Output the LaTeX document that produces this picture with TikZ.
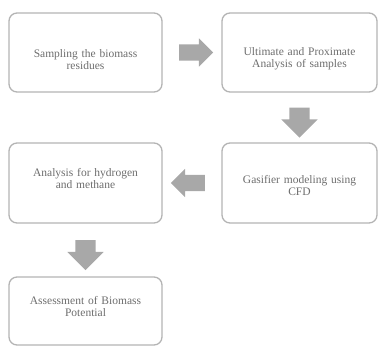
\documentclass[tikz,border=0pt]{standalone}
\usepackage{fontspec}
\setmainfont{Liberation Serif}
\usetikzlibrary{shapes.arrows,calc}
\definecolor{boxline}{HTML}{B4B4B4}
\definecolor{txtgray}{HTML}{6E6E6E}
\definecolor{arrowgray}{HTML}{A8A8A8}
\tikzset{
  stagebox/.style={draw=boxline, line width=1.3pt, rounded corners=8pt, fill=white, inner sep=0pt},
  stagetext/.style={text=txtgray, font=\fontsize{11.5}{12}\selectfont, align=center, text width=145pt, inner sep=0pt},
  blockarrow/.style={single arrow, fill=arrowgray, draw=none, inner sep=0pt, single arrow head indent=0pt},
  harrow/.style={blockarrow, inner ysep=8pt, single arrow head extend=6pt, minimum height=34pt},
  varrow/.style={blockarrow, inner ysep=10pt, single arrow head extend=8pt, minimum height=30pt}
}
\begin{document}
\begin{tikzpicture}[x=1pt,y=-1pt]
\useasboundingbox (0,0) rectangle (380,349);
\node[stagebox, minimum width=153pt, minimum height=79pt] (b1) at (85.5,52.5) {};
\node[stagebox, minimum width=155pt, minimum height=79pt] (b2) at (299.5,52.5) {};
\node[stagebox, minimum width=155pt, minimum height=80pt] (b3) at (299.5,183) {};
\node[stagebox, minimum width=153pt, minimum height=80pt] (b4) at (85.5,183) {};
\node[stagebox, minimum width=153pt, minimum height=68pt] (b5) at (85.5,311) {};
\node[stagetext] (t1) at ($(b1.center)+(0,7)$) {Sampling the biomass\\residues};
\node[stagetext] (t2) at ($(b2.center)+(0,6)$) {Ultimate and Proximate\\Analysis of samples};
\node[stagetext] (t3) at ($(b3.center)+(0,3)$) {Gasifier modeling using\\CFD};
\node[stagetext] (t4) at ($(b4.center)+(0,-4)$) {Analysis for hydrogen\\and methane};
\node[stagetext] (t5) at ($(b5.center)+(0,-5)$) {Assessment of Biomass\\Potential};
\node[harrow] (a1) at ($(b1.east)!0.5!(b2.west)$) {};
\node[varrow, rotate=-90] (a2) at ($(b2.south)!0.5!(b3.north)$) {};
\node[harrow, rotate=180] (a3) at ($(b3.west)!0.5!(b4.east)$) {};
\node[varrow, rotate=-90] (a4) at ($(b4.south)!0.5!(b5.north)$) {};
\end{tikzpicture}
\end{document}
